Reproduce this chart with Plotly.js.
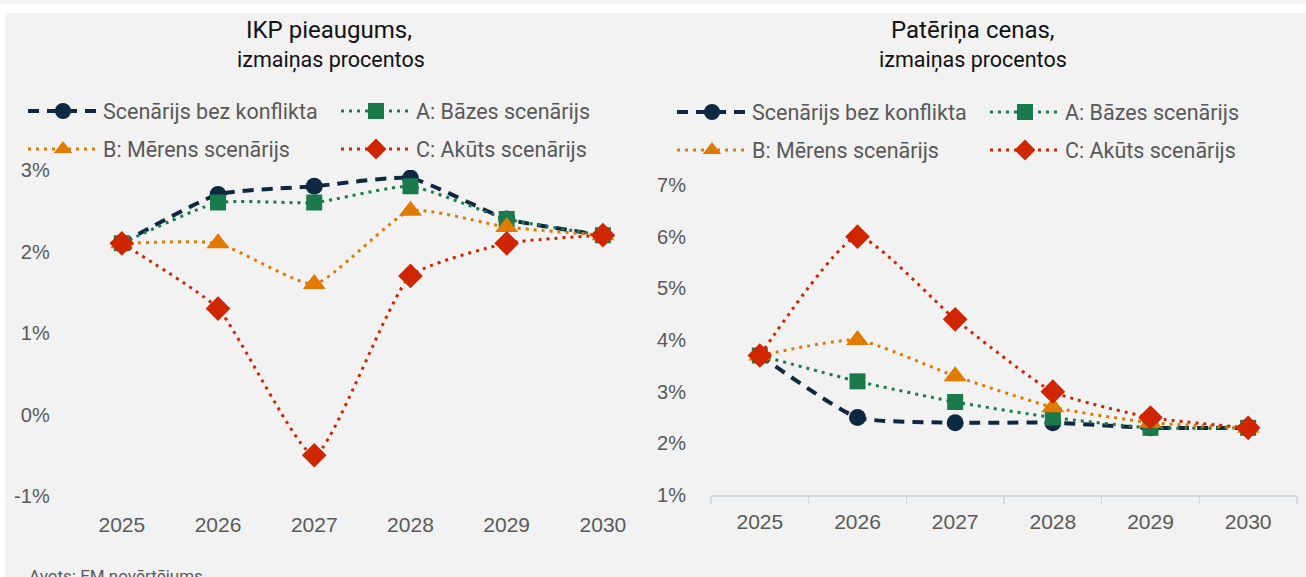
<!DOCTYPE html>
<html>
<head>
<meta charset="utf-8">
<script src="https://cdn.plot.ly/plotly-3.0.1.min.js"></script>
<style>
html,body{margin:0;padding:0;background:#f2f2f2;}
#chart{width:1306px;height:577px;}
</style>
</head>
<body>
<div id="chart"></div>
<script>
// ---- data ----
var years = ['2025', '2026', '2027', '2028', '2029', '2030'];
var seriesNames = ['Scenārijs bez konflikta', 'A: Bāzes scenārijs', 'B: Mērens scenārijs', 'C: Akūts scenārijs'];

// IKP pieaugums (GDP growth, %)
var gdpNoConflict = [2.1, 2.7, 2.8, 2.9, 2.4, 2.2];
var gdpBase       = [2.1, 2.6, 2.6, 2.8, 2.4, 2.2];
var gdpModerate   = [2.1, 2.1, 1.6, 2.5, 2.3, 2.2];
var gdpAcute      = [2.1, 1.3, -0.5, 1.7, 2.1, 2.2];

// Patēriņa cenas (consumer prices, %)
var cpiNoConflict = [3.7, 2.5, 2.4, 2.4, 2.3, 2.3];
var cpiBase       = [3.7, 3.2, 2.8, 2.5, 2.3, 2.3];
var cpiModerate   = [3.7, 4.0, 3.3, 2.7, 2.4, 2.3];
var cpiAcute      = [3.7, 6.0, 4.4, 3.0, 2.5, 2.3];

var gdpTicks = [-1, 0, 1, 2, 3];
var cpiTicks = [1, 2, 3, 4, 5, 6, 7];
var gdpTitle = ['IKP pieaugums,', 'izmaiņas procentos'];
var cpiTitle = ['Patēriņa cenas,', 'izmaiņas procentos'];
var sourceText = 'Avots: EM novērtējums';

// ---- styles ----
var W = 1306, H = 577;
var narrow = 'Roboto, "Liberation Sans", sans-serif';
var sans = '"Liberation Sans", Arial, sans-serif';
var grey = '#595959';
var axisCol = '#d3dae4';

var styles = [
  {color: '#0e2841', dash: '11px,8px', width: 4, symbol: 'circle', size: 17},
  {color: '#1b7a4b', dash: '3px,5px', width: 3, symbol: 'square', size: 16},
  {color: '#e07a00', dash: '3px,5px', width: 3, symbol: 'triangle-up', size: 20},
  {color: '#d02600', dash: '3px,5px', width: 3, symbol: 'diamond', size: 19}
];

function py(px) { return 1 - px / H; }
function pxX(px) { return px / W; }

var gdpSeries = [gdpNoConflict, gdpBase, gdpModerate, gdpAcute];
var cpiSeries = [cpiNoConflict, cpiBase, cpiModerate, cpiAcute];

var traces = [];
function addTraces(series, xa, ya, legA, legB) {
  series.forEach(function (vals, i) {
    var s = styles[i];
    traces.push({
      type: 'scatter', mode: 'lines+markers',
      x: years, y: vals, xaxis: xa, yaxis: ya,
      name: seriesNames[i],
      legend: i < 2 ? legA : legB,
      line: {color: s.color, dash: s.dash, width: s.width, shape: 'spline', smoothing: 0.5},
      marker: {symbol: s.symbol, size: s.size, color: s.color, line: {width: 0}},
      hoverinfo: 'skip'
    });
  });
}
addTraces(gdpSeries, 'x', 'y', 'legend', 'legend2');
addTraces(cpiSeries, 'x2', 'y2', 'legend3', 'legend4');

// domains (paper fractions)
var gdpDomX = [pxX(73.7), pxX(651)];
var gdpDomY = [py(496), py(170)];
var cpiDomX = [pxX(711), pxX(1297)];
var cpiDomY = [py(495), py(185)];

var gdpRange = [gdpTicks[0], gdpTicks[gdpTicks.length - 1]];
var cpiRange = [cpiTicks[0], cpiTicks[cpiTicks.length - 1]];
// position of zero line on GDP chart
var zeroPos = gdpDomY[0] + (0 - gdpRange[0]) / (gdpRange[1] - gdpRange[0]) * (gdpDomY[1] - gdpDomY[0]);
var catRange = [-0.5, years.length - 0.5];
var boundaries = years.map(function (_, i) { return i - 0.5; }).concat([years.length - 0.5]);

function legendCfg(x, y) {
  return {
    orientation: 'h', x: x, xanchor: 'left', y: y, yanchor: 'middle',
    entrywidth: 228, entrywidthmode: 'pixels', itemwidth: 70,
    font: {family: narrow, size: 21.5, color: grey},
    bgcolor: 'rgba(0,0,0,0)', borderwidth: 0, traceorder: 'normal',
    itemclick: false, itemdoubleclick: false
  };
}

var tickFontX = {family: sans, size: 21, color: grey};
var tickFontY = {family: sans, size: 20, color: grey};

var layout = {
  width: W, height: H,
  margin: {l: 0, r: 0, t: 0, b: 0, autoexpand: false},
  paper_bgcolor: '#f2f2f2', plot_bgcolor: 'rgba(0,0,0,0)',
  showlegend: true,
  xaxis: {
    domain: gdpDomX, anchor: 'y', type: 'category', range: catRange,
    showline: false, showgrid: false, zeroline: false, ticks: '',
    tickfont: tickFontX, ticklabelstandoff: 14, fixedrange: true
  },
  xaxis3: {
    domain: gdpDomX, overlaying: 'x', anchor: 'free', position: zeroPos,
    type: 'linear', range: catRange, tickmode: 'array', tickvals: boundaries,
    showticklabels: false, ticks: 'outside', ticklen: 7, tickwidth: 1.5, tickcolor: axisCol,
    showline: true, linecolor: axisCol, linewidth: 2, showgrid: false, zeroline: false, fixedrange: true
  },
  yaxis: {
    domain: gdpDomY, anchor: 'x', range: gdpRange, tickmode: 'array',
    tickvals: gdpTicks, ticktext: gdpTicks.map(function (v) { return v + '%'; }),
    showgrid: false, zeroline: false, showline: false, ticks: '',
    tickfont: tickFontY, ticklabelstandoff: 23, fixedrange: true
  },
  xaxis2: {
    domain: cpiDomX, anchor: 'y2', type: 'category', range: catRange,
    tickson: 'boundaries', ticks: 'outside', ticklen: 7, tickwidth: 1.5, tickcolor: axisCol,
    showline: true, linecolor: axisCol, linewidth: 2, showgrid: false, zeroline: false,
    tickfont: tickFontX, ticklabelstandoff: 7, fixedrange: true
  },
  yaxis2: {
    domain: cpiDomY, anchor: 'x2', range: cpiRange, tickmode: 'array',
    tickvals: cpiTicks, ticktext: cpiTicks.map(function (v) { return v + '%'; }),
    showgrid: false, zeroline: false, showline: false, ticks: '',
    tickfont: tickFontY, ticklabelstandoff: 24, fixedrange: true
  },
  legend: legendCfg(pxX(23), py(111)),
  legend2: legendCfg(pxX(23), py(149)),
  legend3: legendCfg(pxX(672), py(112)),
  legend4: legendCfg(pxX(672), py(150)),
  annotations: [
    {xref: 'paper', yref: 'paper', x: pxX(329), y: py(30), text: gdpTitle[0], showarrow: false,
     xanchor: 'center', yanchor: 'middle', font: {family: narrow, size: 24, color: '#111'}},
    {xref: 'paper', yref: 'paper', x: pxX(331), y: py(60), text: gdpTitle[1], showarrow: false,
     xanchor: 'center', yanchor: 'middle', font: {family: narrow, size: 21.5, color: '#111'}},
    {xref: 'paper', yref: 'paper', x: pxX(973), y: py(30), text: cpiTitle[0], showarrow: false,
     xanchor: 'center', yanchor: 'middle', font: {family: narrow, size: 24, color: '#111'}},
    {xref: 'paper', yref: 'paper', x: pxX(973), y: py(60), text: cpiTitle[1], showarrow: false,
     xanchor: 'center', yanchor: 'middle', font: {family: narrow, size: 21.5, color: '#111'}},
    {xref: 'paper', yref: 'paper', x: pxX(27), y: py(564), text: sourceText, showarrow: false,
     xanchor: 'left', yanchor: 'top', font: {family: narrow, size: 17, color: grey}}
  ],
  shapes: [
    {type: 'rect', xref: 'paper', yref: 'paper', x0: 0, x1: 1, y0: py(13), y1: py(4),
     fillcolor: '#ffffff', line: {width: 0}, layer: 'above'},
    {type: 'rect', xref: 'paper', yref: 'paper', x0: 0, x1: pxX(5), y0: 0, y1: py(13),
     fillcolor: '#ffffff', line: {width: 0}, layer: 'above'}
  ]
};

Plotly.newPlot('chart', traces, layout, {staticPlot: true, displayModeBar: false});
</script>
</body>
</html>
